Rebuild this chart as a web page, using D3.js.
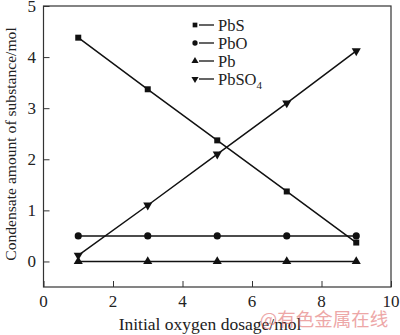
<!DOCTYPE html>
<html>
<head>
<meta charset="utf-8">
<script src="https://cdn.jsdelivr.net/npm/d3@7"></script>
<style>
  html, body { margin: 0; padding: 0; background: #fff; }
  svg { display: block; font-family: "Liberation Serif", "Times New Roman", serif; }
</style>
</head>
<body>
<svg id="chart" width="400" height="335"></svg>
<script>
// Condensed phase amounts vs. initial oxygen dosage
const oxygen = [1, 3, 5, 7, 9];
const pbs = [4.38, 3.37, 2.37, 1.37, 0.37];
const pbo = [0.5, 0.5, 0.5, 0.5, 0.5];
const pb = [0.0, 0.0, 0.0, 0.0, 0.0];
const pbso4 = [0.12, 1.1, 2.1, 3.1, 4.12];
const xTicks = [0, 2, 4, 6, 8, 10];
const yTicks = [0, 1, 2, 3, 4, 5];

const series = [
  { name: "PbS", values: pbs, symbol: d3.symbolSquare },
  { name: "PbO", values: pbo, symbol: d3.symbolCircle },
  { name: "Pb", values: pb, symbol: d3.symbolTriangle },
  { name: "PbSO4", values: pbso4, symbol: "down" }
];

const svg = d3.select("#chart");
const plotL = 43.5, plotR = 391, plotT = 6, plotB = 287;

const x = d3.scaleLinear().domain([0, 10]).range([plotL, plotR]);
const y = d3.scaleLinear().domain([-0.5, 5]).range([plotB, plotT]);

// frame
svg.append("rect")
  .attr("x", plotL).attr("y", plotT)
  .attr("width", plotR - plotL).attr("height", plotB - plotT)
  .attr("fill", "none").attr("stroke", "#333").attr("stroke-width", 1.2);

// axes with inward ticks
const xAxis = svg.append("g").attr("transform", `translate(0,${plotB})`)
  .call(d3.axisTop(x).tickValues(xTicks).tickSize(6).tickFormat(""));
xAxis.select(".domain").remove();
xAxis.selectAll("line").attr("stroke", "#333");
svg.append("g").selectAll("text").data(xTicks).join("text")
  .attr("x", d => x(d)).attr("y", 307)
  .attr("text-anchor", "middle").attr("font-size", 17).attr("fill", "#222")
  .text(d => d);

const yAxis = svg.append("g").attr("transform", `translate(${plotL},0)`)
  .call(d3.axisRight(y).tickValues(yTicks).tickSize(6).tickFormat(""));
yAxis.select(".domain").remove();
yAxis.selectAll("line").attr("stroke", "#333");
svg.append("g").selectAll("text").data(yTicks).join("text")
  .attr("x", 36).attr("y", d => y(d) + 6)
  .attr("text-anchor", "end").attr("font-size", 17).attr("fill", "#222")
  .text(d => d);

// axis titles
svg.append("text")
  .attr("x", 210).attr("y", 330)
  .attr("text-anchor", "middle").attr("font-size", 17.5).attr("fill", "#222")
  .text("Initial oxygen dosage/mol");
svg.append("text")
  .attr("transform", "translate(15.5,144) rotate(-90)")
  .attr("text-anchor", "middle").attr("font-size", 15.6).attr("fill", "#222")
  .text("Condensate amount of substance/mol");

// marker shape: "down" is an inverted triangle
function markerPath(symbol, size) {
  return symbol === "down"
    ? d3.symbol(d3.symbolTriangle, size)()
    : d3.symbol(symbol, size)();
}
function markerRot(symbol) {
  return symbol === "down" ? " rotate(180)" : "";
}

const line = d3.line().x((d, i) => x(oxygen[i])).y(d => y(d));

series.forEach(s => {
  svg.append("path")
    .attr("d", line(s.values))
    .attr("fill", "none").attr("stroke", "#111").attr("stroke-width", 1.5);
  svg.append("g").selectAll("path").data(s.values).join("path")
    .attr("transform", (d, i) => `translate(${x(oxygen[i])},${y(d)})` + markerRot(s.symbol))
    .attr("d", markerPath(s.symbol, s.symbol === d3.symbolCircle ? 40 : 36))
    .attr("fill", "#111");
});

// legend
const legend = svg.append("g");
series.forEach((s, i) => {
  const ly = 25 + i * 18;
  legend.append("path")
    .attr("transform", `translate(195,${ly})` + markerRot(s.symbol))
    .attr("d", markerPath(s.symbol, 22))
    .attr("fill", "#111");
  legend.append("line")
    .attr("x1", 199).attr("x2", 214).attr("y1", ly).attr("y2", ly)
    .attr("stroke", "#111").attr("stroke-width", 1.3);
  const t = legend.append("text")
    .attr("x", 218).attr("y", ly + 5.5)
    .attr("font-size", 16.5).attr("fill", "#222");
  if (s.name === "PbSO4") {
    t.append("tspan").text("PbSO");
    t.append("tspan").attr("font-size", 11).attr("dy", 4).text("4");
  } else {
    t.text(s.name);
  }
});

// publisher mark
svg.append("text")
  .attr("x", 324).attr("y", 325.5)
  .attr("text-anchor", "middle").attr("font-size", 18.5)
  .attr("font-family", "Noto Sans CJK SC, sans-serif")
  .attr("fill", "#e06060").attr("opacity", 0.55)
  .text("@有色金属在线");
</script>
</body>
</html>
